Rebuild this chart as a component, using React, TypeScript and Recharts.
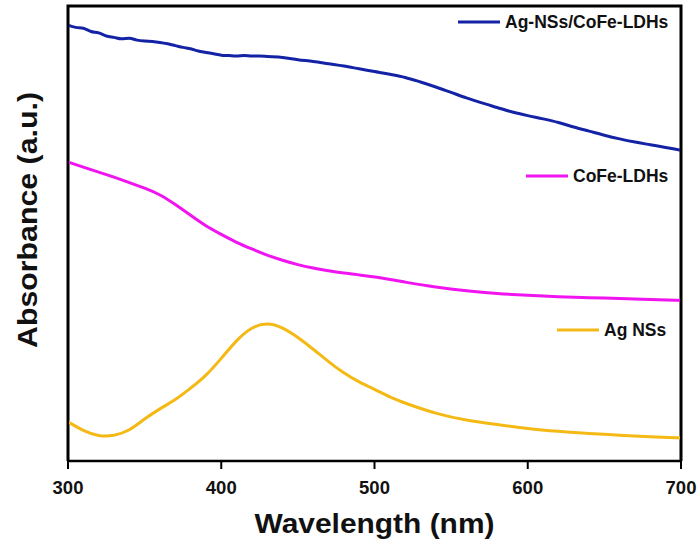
import { Line, LineChart, XAxis, YAxis } from "recharts";

// UV-vis absorbance (a.u.)
const blueWl = [
  300, 305, 310, 315, 320, 325, 330, 335, 340, 345, 350, 355, 360, 365, 370, 375, 380, 385, 390, 395,
  400, 405, 410, 415, 420, 425, 430, 440, 450, 460, 470, 480, 490, 500, 510, 520, 530, 540, 550, 560,
  570, 580, 590, 600, 610, 620, 630, 640, 650, 660, 670, 680, 690, 700,
];
const blueAbs = [
  0.958, 0.953, 0.951, 0.944, 0.941, 0.934, 0.931, 0.928, 0.929, 0.925, 0.923, 0.922, 0.92, 0.917, 0.913,
  0.909, 0.906, 0.901, 0.898, 0.895, 0.892, 0.891, 0.89, 0.891, 0.89, 0.89, 0.889, 0.887, 0.882, 0.878,
  0.873, 0.868, 0.862, 0.856, 0.85, 0.843, 0.833, 0.822, 0.81, 0.798, 0.787, 0.777, 0.767, 0.759, 0.752,
  0.744, 0.734, 0.725, 0.716, 0.708, 0.701, 0.695, 0.689, 0.683,
];

const pinkWl = [
  300, 310, 320, 330, 340, 350, 360, 370, 380, 390, 400, 410, 420, 430, 440, 450, 460, 470, 480, 490,
  500, 520, 540, 560, 580, 600, 620, 640, 660, 680, 700,
];
const pinkAbs = [
  0.657, 0.646, 0.635, 0.624, 0.612, 0.6, 0.586, 0.564, 0.54, 0.516, 0.498, 0.48, 0.466, 0.452, 0.441,
  0.431, 0.424, 0.418, 0.413, 0.409, 0.405, 0.393, 0.382, 0.374, 0.368, 0.364, 0.361, 0.359, 0.357, 0.355,
  0.353,
];

const yellowWl = [
  300, 310, 320, 330, 340, 350, 360, 370, 380, 390, 400, 410, 420, 430, 440, 450, 460, 470, 480, 490,
  500, 510, 520, 540, 560, 580, 600, 620, 640, 660, 680, 700,
];
const yellowAbs = [
  0.086, 0.066, 0.054, 0.055, 0.066, 0.093, 0.115, 0.134, 0.16, 0.187, 0.225, 0.266, 0.295, 0.304, 0.294,
  0.272, 0.246, 0.218, 0.193, 0.173, 0.158, 0.14, 0.127, 0.104, 0.089, 0.08, 0.071, 0.065, 0.06, 0.057,
  0.053, 0.051,
];

const xTicks = [300, 400, 500, 600, 700];

const series = [
  { key: "blue", name: "Ag-NSs/CoFe-LDHs", color: "#1423a6", wl: blueWl, abs: blueAbs, curve: "monotone" },
  { key: "pink", name: "CoFe-LDHs", color: "#f014f0", wl: pinkWl, abs: pinkAbs, curve: "basis" },
  { key: "yellow", name: "Ag NSs", color: "#f4b914", wl: yellowWl, abs: yellowAbs, curve: "basis" },
];

// legend placement inside the frame (line start x, text start x, y)
const legendPos = [
  { x: 458, tx: 505, y: 22 },
  { x: 526, tx: 573, y: 176 },
  { x: 557, tx: 604, y: 330 },
];

const FONT = "Arial, 'Liberation Sans', Helvetica, sans-serif";
const MARGIN = { top: 6, right: 19, left: 67, bottom: 48 };
const CHART_W = 700;
const CHART_H = 549;
const X_AXIS_H = 40;
const Y_AXIS_W = 1;

// plot box edges, derived from the chart margins
const PLOT_L = MARGIN.left + Y_AXIS_W;
const PLOT_R = CHART_W - MARGIN.right;
const PLOT_T = MARGIN.top;
const PLOT_B = CHART_H - MARGIN.bottom - X_AXIS_H;

function Overlay() {
  return (
    <g>
      <polyline
        points={`${PLOT_L},${PLOT_B} ${PLOT_L},${PLOT_T} ${PLOT_R},${PLOT_T} ${PLOT_R},${PLOT_B}`}
        fill="none"
        stroke="#000000"
        strokeWidth={3}
        strokeOpacity={1}
      />
      {series.map((s, i) => {
        const p = legendPos[i];
        return (
          <g key={s.key}>
            <line x1={p.x} x2={p.x + 42} y1={p.y} y2={p.y} stroke={s.color} strokeWidth={3} />
            <text
              x={p.tx}
              y={p.y}
              dominantBaseline="central"
              fontFamily={FONT}
              fontWeight="bold"
              fontSize={17.5}
              fill="#111"
            >
              {s.name}
            </text>
          </g>
        );
      })}
    </g>
  );
}

export default function App() {
  return (
    <div style={{ position: "absolute", left: 0, top: 0, width: CHART_W, height: CHART_H, background: "#fff" }}>
      <LineChart width={CHART_W} height={CHART_H} margin={MARGIN}>
        <XAxis
          xAxisId="bottom"
          type="number"
          dataKey="x"
          domain={[300, 700]}
          ticks={xTicks}
          allowDataOverflow
          height={X_AXIS_H}
          tickSize={8}
          tickMargin={12}
          axisLine={{ stroke: "#000", strokeWidth: 2.5 }}
          tickLine={{ stroke: "#000", strokeWidth: 2 }}
          tick={{ fill: "#111", fontSize: 18.5, fontWeight: "bold", fontFamily: FONT }}
          label={({ viewBox }: any) => (
            <text
              x={viewBox.x + viewBox.width / 2}
              y={533}
              textAnchor="middle"
              fontFamily={FONT}
              fontWeight="bold"
              fontSize={27}
              textLength={240}
              lengthAdjust="spacingAndGlyphs"
              fill="#111"
            >
              Wavelength (nm)
            </text>
          )}
        />
        <YAxis
          yAxisId="left"
          type="number"
          domain={[0, 1]}
          width={Y_AXIS_W}
          tick={false}
          tickLine={false}
          axisLine={false}
          label={() => (
            <text
              transform="translate(27, 220) rotate(-90)"
              textAnchor="middle"
              dominantBaseline="central"
              fontFamily={FONT}
              fontWeight="bold"
              fontSize={28}
              textLength={256}
              lengthAdjust="spacingAndGlyphs"
              fill="#111"
            >
              Absorbance (a.u.)
            </text>
          )}
        />
        {series.map((s) => (
          <Line
            key={s.key}
            xAxisId="bottom"
            yAxisId="left"
            data={s.wl.map((w, i) => ({ x: w, y: s.abs[i] }))}
            dataKey="y"
            name={s.name}
            type={s.curve as any}
            stroke={s.color}
            strokeWidth={3}
            dot={false}
            activeDot={false}
            isAnimationActive={false}
          />
        ))}
        <Overlay />
      </LineChart>
      {/* frame: left, top and right edges of the plot box */}
      <div
        style={{
          position: "absolute",
          left: PLOT_L - 1,
          top: PLOT_T - 1,
          width: PLOT_R - PLOT_L + 2,
          height: PLOT_B - PLOT_T + 1,
          boxSizing: "border-box",
          borderLeft: "2px solid #000",
          borderTop: "2px solid #000",
          borderRight: "2px solid #000",
          pointerEvents: "none",
        }}
      />
    </div>
  );
}
